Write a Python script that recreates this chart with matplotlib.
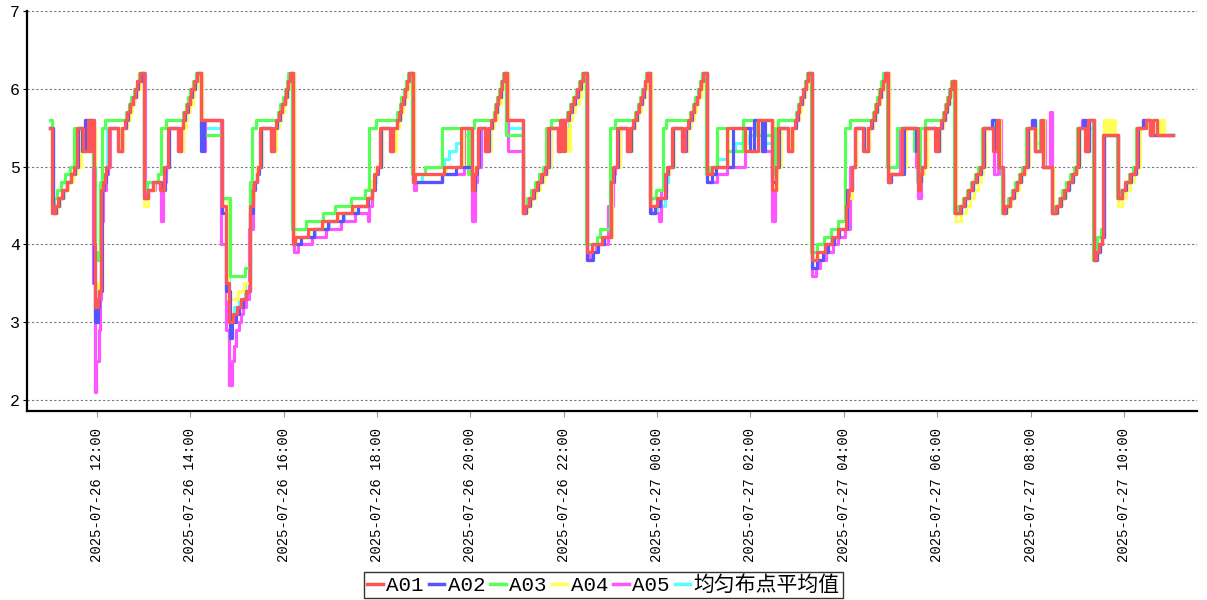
import matplotlib
matplotlib.use("Agg")
import matplotlib.pyplot as plt
import matplotlib.dates as mdates
from matplotlib.lines import Line2D
import pandas as pd

plt.rcParams['font.family'] = ['Liberation Mono', 'Noto Sans CJK SC']

# minutes after 2025-07-26 11:00, value held until next point
start = pd.Timestamp('2025-07-26 11:00')

a01 = [(0,5.5),(2,4.4),(6,4.5),(10,4.6),(15,4.7),(21,4.8),(26,4.9),(31,5.0),(34,5.5),(42,5.2),(48,5.6),(50,5.2),(53,5.6),(56,4.0),(58,3.2),(61,3.3),(63,3.4),(65,4.7),(68,4.8),(70,4.9),(72,5.0),(75,5.5),(87,5.2),(92,5.5),(96,5.6),(99,5.7),(103,5.8),(106,5.9),(109,6.0),(112,6.1),(115,6.2),(121,4.6),(125,4.7),(132,4.8),(141,4.7),(146,5.0),(151,5.5),(164,5.2),(168,5.5),(170,5.6),(172,5.7),(176,5.8),(179,5.9),(181,6.0),(185,6.1),(189,6.2),(194,5.6),(221,4.5),(226,3.5),(230,3.0),(235,3.1),(240,3.2),(245,3.3),(251,3.4),(257,4.5),(260,4.7),(262,4.8),(265,4.9),(267,5.0),(270,5.5),(283,5.2),(287,5.5),(290,5.6),(294,5.7),(298,5.8),(301,5.9),(303,6.0),(306,6.1),(308,6.2),(312,4.0),(315,4.1),(331,4.2),(349,4.3),(368,4.4),(388,4.5),(407,4.6),(413,4.7),(416,4.9),(420,5.0),(424,5.5),(437,5.2),(441,5.5),(445,5.6),(448,5.7),(451,5.8),(453,5.9),(456,6.0),(459,6.1),(461,6.2),(466,4.8),(469,4.9),(506,5.0),(528,5.5),(542,4.7),(545,4.9),(547,5.0),(550,5.5),(559,5.2),(563,5.5),(567,5.6),(571,5.7),(573,5.8),(576,5.9),(578,6.0),(581,6.1),(583,6.2),(587,5.6),(608,4.4),(610,4.5),(615,4.6),(621,4.7),(626,4.8),(631,4.9),(636,5.0),(640,5.5),(652,5.2),(655,5.6),(659,5.2),(662,5.6),(666,5.7),(669,5.8),(673,5.9),(677,6.0),(681,6.1),(685,6.2),(690,3.9),(696,4.0),(709,4.1),(721,4.8),(723,5.0),(729,5.5),(741,5.2),(745,5.5),(749,5.6),(753,5.7),(757,5.8),(759,5.9),(762,6.0),(765,6.1),(767,6.2),(771,4.5),(780,4.6),(790,4.9),(793,5.0),(799,5.5),(812,5.2),(816,5.5),(820,5.6),(824,5.7),(828,5.8),(831,5.9),(834,6.0),(837,6.1),(839,6.2),(844,4.9),(851,5.0),(870,5.5),(893,5.2),(910,5.6),(928,4.7),(933,5.0),(936,5.5),(948,5.2),(953,5.5),(957,5.6),(960,5.7),(962,5.8),(965,5.9),(968,6.0),(971,6.1),(974,6.2),(979,3.8),(986,3.9),(996,4.0),(1005,4.1),(1012,4.2),(1023,4.5),(1025,4.7),(1030,5.0),(1034,5.5),(1045,5.2),(1051,5.5),(1055,5.6),(1059,5.7),(1062,5.8),(1065,5.9),(1067,6.0),(1070,6.1),(1073,6.2),(1077,4.8),(1079,4.9),(1095,5.5),(1115,4.7),(1118,4.9),(1120,5.0),(1124,5.5),(1137,5.2),(1141,5.5),(1145,5.6),(1149,5.7),(1151,5.8),(1154,5.9),(1156,6.0),(1159,6.1),(1163,4.4),(1169,4.5),(1175,4.6),(1180,4.7),(1185,4.8),(1190,4.9),(1195,5.0),(1199,5.5),(1212,5.2),(1217,5.6),(1220,5.0),(1224,4.4),(1227,4.5),(1233,4.6),(1238,4.7),(1242,4.8),(1247,4.9),(1251,5.0),(1256,5.5),(1266,5.2),(1273,5.6),(1276,5.0),(1288,4.4),(1293,4.5),(1298,4.6),(1303,4.7),(1308,4.8),(1313,4.9),(1318,5.0),(1321,5.5),(1330,5.2),(1334,5.6),(1341,3.8),(1344,3.9),(1348,4.0),(1352,4.1),(1353,5.4),(1372,4.6),(1377,4.7),(1382,4.8),(1388,4.9),(1394,5.0),(1397,5.5),(1409,5.6),(1413,5.4),(1417,5.6),(1422,5.4),(1443,5.4)]

a02 = [(0,5.5),(3,4.4),(7,4.5),(11,4.6),(16,4.7),(21,4.8),(27,4.9),(32,5.0),(35,5.5),(41,5.2),(45,5.6),(53,5.6),(56,3.5),(58,3.0),(61,3.2),(63,3.4),(66,4.7),(69,4.8),(71,4.9),(73,5.0),(76,5.5),(87,5.2),(92,5.5),(97,5.6),(100,5.7),(103,5.8),(106,5.9),(110,6.0),(113,6.1),(116,6.2),(121,4.6),(125,4.7),(132,4.8),(142,4.7),(147,5.0),(152,5.5),(164,5.2),(168,5.5),(171,5.6),(173,5.7),(177,5.8),(180,5.9),(182,6.0),(186,6.1),(189,6.2),(194,5.2),(197,5.6),(221,4.4),(226,3.4),(231,2.8),(234,3.0),(238,3.1),(242,3.2),(247,3.3),(252,3.4),(257,4.4),(261,4.7),(263,4.8),(266,4.9),(268,5.0),(271,5.5),(283,5.2),(288,5.5),(291,5.6),(295,5.7),(298,5.8),(301,5.9),(304,6.0),(306,6.1),(308,6.2),(312,4.0),(322,4.1),(339,4.2),(357,4.3),(376,4.4),(395,4.5),(408,4.6),(414,4.7),(417,4.9),(421,5.0),(425,5.5),(437,5.2),(441,5.5),(446,5.6),(449,5.7),(451,5.8),(454,5.9),(456,6.0),(459,6.1),(461,6.2),(466,4.8),(504,4.9),(522,5.0),(542,4.7),(546,4.9),(548,5.0),(551,5.5),(559,5.2),(564,5.5),(568,5.6),(571,5.7),(574,5.8),(576,5.9),(579,6.0),(581,6.1),(583,6.2),(587,5.6),(608,4.4),(611,4.5),(616,4.6),(622,4.7),(627,4.8),(632,4.9),(637,5.0),(641,5.5),(652,5.2),(656,5.6),(667,5.7),(670,5.8),(674,5.9),(678,6.0),(682,6.1),(685,6.2),(690,3.8),(697,3.9),(704,4.0),(712,4.1),(721,4.8),(724,5.0),(730,5.5),(741,5.2),(746,5.5),(750,5.6),(754,5.7),(757,5.8),(760,5.9),(763,6.0),(765,6.1),(767,6.2),(771,4.4),(777,4.5),(784,4.6),(791,4.9),(794,5.0),(800,5.5),(812,5.2),(817,5.5),(821,5.6),(825,5.7),(828,5.8),(831,5.9),(834,6.0),(837,6.1),(839,6.2),(844,4.8),(850,4.9),(856,5.0),(877,5.5),(900,5.2),(904,5.6),(915,5.2),(919,5.6),(928,4.8),(933,5.0),(937,5.5),(948,5.2),(953,5.5),(958,5.6),(961,5.7),(963,5.8),(966,5.9),(969,6.0),(971,6.1),(974,6.2),(979,3.7),(986,3.8),(993,3.9),(1000,4.0),(1008,4.1),(1014,4.2),(1024,4.7),(1031,5.0),(1035,5.5),(1046,5.2),(1051,5.5),(1056,5.6),(1060,5.7),(1063,5.8),(1065,5.9),(1068,6.0),(1070,6.1),(1073,6.2),(1077,4.8),(1081,4.9),(1098,5.5),(1113,5.2),(1116,4.8),(1119,4.9),(1121,5.0),(1125,5.5),(1138,5.2),(1142,5.5),(1146,5.6),(1150,5.7),(1152,5.8),(1155,5.9),(1157,6.0),(1160,6.1),(1163,4.4),(1170,4.5),(1176,4.6),(1181,4.7),(1186,4.8),(1191,4.9),(1196,5.0),(1200,5.5),(1210,5.6),(1216,5.2),(1220,5.0),(1224,4.4),(1228,4.5),(1234,4.6),(1239,4.7),(1243,4.8),(1248,4.9),(1252,5.0),(1257,5.5),(1262,5.6),(1266,5.2),(1273,5.5),(1276,5.0),(1288,4.4),(1294,4.5),(1299,4.6),(1304,4.7),(1309,4.8),(1314,4.9),(1319,5.0),(1322,5.5),(1327,5.6),(1331,5.2),(1335,5.6),(1341,3.8),(1345,3.9),(1349,4.0),(1352,4.1),(1354,5.4),(1372,4.6),(1378,4.7),(1383,4.8),(1389,4.9),(1395,5.0),(1398,5.5),(1405,5.6),(1413,5.4),(1443,5.4)]

a03 = [(0,5.6),(2,4.5),(5,4.6),(9,4.7),(14,4.8),(19,4.9),(25,5.0),(31,5.5),(42,5.2),(47,5.6),(55,5.0),(58,3.9),(60,3.8),(64,4.8),(66,5.5),(70,5.6),(97,5.7),(101,5.8),(104,5.9),(107,6.0),(111,6.1),(114,6.2),(120,4.7),(124,4.8),(138,4.9),(142,5.5),(148,5.6),(170,5.7),(174,5.8),(177,5.9),(180,6.0),(183,6.1),(187,6.2),(193,5.4),(221,4.6),(231,3.6),(250,3.7),(256,4.8),(259,5.5),(264,5.6),(292,5.7),(295,5.8),(299,5.9),(302,6.0),(304,6.1),(306,6.2),(311,4.2),(328,4.3),(351,4.4),(366,4.5),(386,4.6),(405,4.7),(410,5.5),(419,5.6),(446,5.7),(449,5.8),(451,5.9),(454,6.0),(457,6.1),(460,6.2),(465,4.9),(481,5.0),(504,5.5),(537,4.9),(541,5.5),(545,5.6),(570,5.7),(572,5.8),(574,5.9),(577,6.0),(579,6.1),(582,6.2),(586,5.4),(608,4.4),(609,4.5),(613,4.6),(618,4.7),(623,4.8),(628,4.9),(633,5.0),(637,5.5),(644,5.6),(664,5.7),(668,5.8),(672,5.9),(676,6.0),(680,6.1),(684,6.2),(689,4.0),(703,4.1),(707,4.2),(719,5.5),(726,5.6),(751,5.7),(755,5.8),(758,5.9),(761,6.0),(764,6.1),(766,6.2),(771,4.6),(779,4.7),(787,5.5),(792,5.6),(822,5.7),(826,5.8),(829,5.9),(832,6.0),(835,6.1),(838,6.2),(843,4.9),(848,5.0),(857,5.5),(870,5.2),(891,5.6),(906,5.4),(928,4.9),(931,5.5),(936,5.6),(959,5.7),(961,5.8),(964,5.9),(967,6.0),(970,6.1),(973,6.2),(978,3.9),(985,4.0),(994,4.1),(1003,4.2),(1012,4.3),(1021,5.5),(1028,5.6),(1057,5.7),(1060,5.8),(1063,5.9),(1065,6.0),(1068,6.1),(1071,6.2),(1076,5.0),(1089,5.5),(1110,5.2),(1115,4.8),(1118,5.5),(1124,5.6),(1147,5.7),(1150,5.8),(1152,5.9),(1155,6.0),(1158,6.1),(1162,4.4),(1167,4.5),(1173,4.6),(1178,4.7),(1183,4.8),(1188,4.9),(1193,5.0),(1197,5.5),(1212,5.6),(1220,5.0),(1223,4.4),(1226,4.5),(1231,4.6),(1236,4.7),(1240,4.8),(1245,4.9),(1249,5.0),(1254,5.5),(1266,5.2),(1272,5.6),(1276,5.0),(1287,4.4),(1291,4.5),(1296,4.6),(1301,4.7),(1306,4.8),(1311,4.9),(1316,5.0),(1320,5.5),(1330,5.2),(1334,5.6),(1340,3.8),(1343,3.9),(1346,4.1),(1350,4.2),(1353,5.4),(1371,4.6),(1376,4.7),(1381,4.8),(1386,4.9),(1392,5.0),(1396,5.5),(1408,5.6),(1413,5.4),(1417,5.6),(1422,5.4),(1443,5.4)]

a04 = [(0,5.5),(3,4.4),(9,4.5),(13,4.6),(18,4.7),(23,4.8),(29,4.9),(34,5.0),(40,5.5),(46,5.6),(53,5.5),(57,3.5),(61,3.4),(64,3.5),(66,4.7),(69,4.9),(72,5.0),(76,5.5),(88,5.2),(94,5.5),(99,5.6),(102,5.7),(105,5.8),(108,5.9),(112,6.0),(115,6.1),(118,6.2),(121,4.5),(126,4.7),(133,4.8),(141,4.8),(146,5.0),(152,5.5),(165,5.2),(170,5.5),(174,5.6),(176,5.7),(180,5.8),(183,5.9),(185,6.0),(189,6.1),(192,6.2),(195,5.6),(221,4.6),(228,3.3),(241,3.4),(249,3.5),(256,4.6),(262,4.8),(266,5.0),(272,5.5),(285,5.2),(290,5.5),(294,5.6),(297,5.7),(300,5.8),(303,5.9),(305,6.0),(307,6.1),(309,6.2),(313,4.0),(316,4.1),(333,4.2),(351,4.3),(370,4.4),(390,4.5),(408,4.6),(414,4.8),(418,5.0),(426,5.5),(439,5.2),(444,5.5),(448,5.6),(451,5.7),(453,5.8),(456,5.9),(458,6.0),(461,6.1),(463,6.2),(467,4.9),(508,5.0),(530,5.5),(542,4.8),(546,5.0),(551,5.5),(561,5.2),(566,5.5),(570,5.6),(574,5.7),(576,5.8),(579,5.9),(581,6.0),(583,6.1),(585,6.2),(588,5.6),(608,4.4),(613,4.5),(618,4.6),(624,4.7),(629,4.8),(634,4.9),(639,5.0),(644,5.5),(655,5.2),(660,5.5),(664,5.2),(668,5.6),(671,5.7),(675,5.8),(679,5.9),(682,6.0),(685,6.1),(687,6.2),(690,3.9),(697,4.0),(709,4.1),(722,4.8),(725,5.0),(732,5.5),(743,5.2),(748,5.5),(752,5.6),(756,5.7),(759,5.8),(762,5.9),(765,6.0),(767,6.1),(769,6.2),(772,4.5),(781,4.6),(791,4.9),(795,5.0),(802,5.5),(814,5.2),(819,5.5),(823,5.6),(827,5.7),(830,5.8),(833,5.9),(836,6.0),(839,6.1),(841,6.2),(844,4.9),(852,5.0),(871,5.5),(894,5.2),(911,5.6),(929,4.7),(934,5.0),(939,5.5),(950,5.2),(955,5.5),(959,5.6),(962,5.7),(965,5.8),(968,5.9),(970,6.0),(973,6.1),(976,6.2),(979,3.8),(987,3.9),(997,4.0),(1006,4.1),(1013,4.2),(1024,4.6),(1031,5.0),(1036,5.5),(1048,5.2),(1053,5.5),(1058,5.6),(1061,5.7),(1064,5.8),(1067,5.9),(1069,6.0),(1072,6.1),(1075,6.2),(1078,4.8),(1081,4.9),(1097,5.0),(1100,5.5),(1116,4.8),(1120,4.9),(1123,5.0),(1127,5.5),(1140,5.2),(1144,5.5),(1148,5.6),(1151,5.7),(1154,5.8),(1156,5.9),(1158,6.0),(1161,6.1),(1164,4.3),(1171,4.4),(1177,4.5),(1182,4.6),(1187,4.7),(1192,4.8),(1196,4.9),(1199,5.0),(1202,5.5),(1214,5.2),(1219,5.6),(1221,5.0),(1225,4.4),(1230,4.5),(1235,4.6),(1240,4.7),(1245,4.8),(1249,4.9),(1253,5.0),(1258,5.5),(1267,5.2),(1274,5.6),(1277,5.0),(1289,4.4),(1295,4.5),(1300,4.6),(1305,4.7),(1310,4.8),(1315,4.9),(1320,5.0),(1323,5.5),(1331,5.2),(1335,5.6),(1341,3.8),(1345,3.9),(1349,4.0),(1352,4.1),(1354,5.6),(1357,5.4),(1360,5.6),(1363,5.4),(1366,5.6),(1369,5.4),(1372,4.5),(1378,4.6),(1383,4.7),(1388,4.8),(1393,4.9),(1397,5.0),(1401,5.5),(1409,5.6),(1413,5.4),(1417,5.6),(1424,5.4),(1428,5.6),(1432,5.4),(1443,5.4)]

a05 = [(0,5.5),(3,4.4),(8,4.5),(12,4.6),(17,4.7),(22,4.8),(28,4.9),(33,5.0),(37,5.5),(44,5.6),(52,5.5),(55,3.5),(57,2.1),(59,2.5),(62,2.9),(64,3.3),(65,4.3),(68,4.7),(71,4.9),(74,5.0),(77,5.5),(88,5.2),(93,5.5),(98,5.6),(101,5.7),(104,5.8),(107,5.9),(111,6.0),(114,6.1),(117,6.2),(122,4.6),(126,4.7),(134,4.8),(142,4.3),(145,4.8),(149,5.0),(153,5.5),(166,5.2),(170,5.5),(173,5.6),(175,5.7),(178,5.8),(181,5.9),(183,6.0),(187,6.1),(190,6.2),(195,5.6),(197,5.2),(199,5.6),(219,4.0),(226,2.9),(230,2.2),(233,2.5),(236,2.7),(239,2.9),(242,3.0),(245,3.1),(248,3.2),(251,3.3),(255,4.2),(261,4.8),(265,5.0),(272,5.5),(285,5.2),(289,5.5),(292,5.6),(296,5.7),(299,5.8),(302,5.9),(305,6.0),(307,6.1),(309,6.2),(313,3.9),(318,4.0),(336,4.1),(354,4.2),(373,4.3),(391,4.4),(408,4.3),(410,4.5),(414,4.8),(418,5.0),(426,5.5),(438,5.2),(443,5.5),(447,5.6),(450,5.7),(452,5.8),(455,5.9),(457,6.0),(460,6.1),(462,6.2),(467,4.7),(470,4.8),(504,4.9),(532,5.5),(542,4.3),(546,4.8),(549,5.0),(553,5.5),(560,5.2),(565,5.5),(569,5.6),(572,5.7),(575,5.8),(577,5.9),(580,6.0),(582,6.1),(584,6.2),(588,5.2),(608,4.4),(612,4.5),(617,4.6),(623,4.7),(628,4.8),(633,4.9),(638,5.0),(643,5.5),(653,5.2),(657,5.6),(668,5.7),(671,5.8),(675,5.9),(679,6.0),(683,6.1),(686,6.2),(690,3.8),(694,3.9),(701,4.0),(717,4.5),(723,4.9),(726,5.0),(732,5.5),(742,5.2),(747,5.5),(751,5.6),(755,5.7),(758,5.8),(761,5.9),(764,6.0),(766,6.1),(768,6.2),(772,4.4),(782,4.3),(785,4.7),(791,4.9),(795,5.0),(801,5.5),(813,5.2),(818,5.5),(822,5.6),(826,5.7),(829,5.8),(832,5.9),(835,6.0),(838,6.1),(840,6.2),(844,4.8),(857,4.9),(870,5.0),(893,5.5),(905,5.6),(914,5.2),(928,4.3),(931,4.8),(934,5.0),(938,5.5),(949,5.2),(954,5.5),(959,5.6),(962,5.7),(964,5.8),(967,5.9),(970,6.0),(972,6.1),(975,6.2),(979,3.6),(984,3.7),(989,3.8),(997,3.9),(1006,4.0),(1013,4.1),(1022,4.2),(1028,5.0),(1036,5.5),(1047,5.2),(1052,5.5),(1057,5.6),(1061,5.7),(1063,5.8),(1066,5.9),(1069,6.0),(1071,6.1),(1074,6.2),(1078,4.8),(1081,4.9),(1092,5.5),(1113,5.0),(1116,4.6),(1119,4.9),(1122,5.0),(1126,5.5),(1139,5.2),(1143,5.5),(1147,5.6),(1150,5.7),(1153,5.8),(1155,5.9),(1157,6.0),(1160,6.1),(1163,4.4),(1170,4.5),(1176,4.6),(1181,4.7),(1186,4.8),(1191,4.9),(1196,5.0),(1200,5.5),(1210,5.6),(1213,4.9),(1218,5.6),(1222,4.9),(1225,4.4),(1229,4.5),(1234,4.6),(1239,4.7),(1244,4.8),(1248,4.9),(1253,5.0),(1256,5.5),(1262,5.6),(1266,5.2),(1273,5.6),(1278,5.0),(1285,5.7),(1288,4.4),(1294,4.5),(1299,4.6),(1304,4.7),(1309,4.8),(1314,4.9),(1318,5.0),(1321,5.5),(1326,5.6),(1331,5.2),(1335,5.6),(1341,3.8),(1345,3.9),(1349,4.0),(1352,4.1),(1354,5.4),(1372,4.6),(1378,4.7),(1383,4.8),(1389,4.9),(1395,5.0),(1398,5.5),(1404,5.6),(1413,5.4),(1443,5.4)]

avg = [(0,5.5),(2,4.4),(7,4.5),(11,4.6),(16,4.7),(21,4.8),(27,4.9),(32,5.0),(35,5.5),(42,5.3),(47,5.6),(54,5.4),(57,3.3),(63,3.5),(65,4.7),(68,4.9),(71,5.0),(73,5.5),(87,5.3),(92,5.5),(97,5.6),(100,5.7),(104,5.8),(107,5.9),(110,6.0),(113,6.1),(116,6.2),(121,4.6),(125,4.7),(132,4.8),(141,4.7),(146,5.0),(151,5.5),(165,5.3),(169,5.5),(171,5.6),(174,5.7),(177,5.8),(180,5.9),(183,6.0),(186,6.1),(189,6.2),(194,5.5),(221,4.5),(229,3.1),(236,3.2),(243,3.3),(250,3.5),(257,4.6),(261,4.8),(265,5.0),(270,5.5),(284,5.3),(288,5.5),(291,5.6),(295,5.7),(299,5.8),(302,5.9),(304,6.0),(307,6.1),(309,6.2),(312,4.1),(340,4.2),(358,4.3),(377,4.4),(396,4.5),(408,4.6),(414,4.8),(418,5.0),(424,5.5),(438,5.3),(442,5.5),(446,5.6),(449,5.7),(452,5.8),(454,5.9),(457,6.0),(459,6.1),(462,6.2),(466,4.8),(478,4.9),(506,5.1),(513,5.2),(521,5.3),(528,5.4),(542,4.8),(546,5.0),(550,5.5),(560,5.3),(564,5.5),(568,5.6),(572,5.7),(574,5.8),(577,5.9),(579,6.0),(582,6.1),(584,6.2),(588,5.5),(608,4.4),(611,4.5),(616,4.6),(622,4.7),(627,4.8),(632,4.9),(637,5.0),(641,5.5),(653,5.3),(657,5.5),(667,5.7),(670,5.8),(674,5.9),(678,6.0),(682,6.1),(685,6.2),(690,3.9),(697,4.0),(709,4.1),(721,4.8),(724,5.0),(730,5.5),(742,5.3),(746,5.5),(750,5.6),(754,5.7),(757,5.8),(760,5.9),(763,6.0),(765,6.1),(767,6.2),(771,4.4),(780,4.5),(790,4.8),(794,5.0),(800,5.5),(813,5.3),(817,5.5),(821,5.6),(825,5.7),(828,5.8),(831,5.9),(834,6.0),(837,6.1),(839,6.2),(844,4.9),(851,5.0),(857,5.1),(870,5.2),(880,5.3),(898,5.4),(910,5.3),(928,4.8),(933,5.0),(937,5.5),(948,5.3),(953,5.5),(957,5.6),(961,5.7),(963,5.8),(966,5.9),(969,6.0),(971,6.1),(974,6.2),(979,3.8),(986,3.9),(996,4.0),(1004,4.1),(1012,4.2),(1023,4.7),(1030,5.0),(1035,5.5),(1046,5.3),(1051,5.5),(1055,5.6),(1059,5.7),(1062,5.8),(1065,5.9),(1068,6.0),(1070,6.1),(1073,6.2),(1077,4.8),(1080,4.9),(1094,5.5),(1114,4.8),(1118,4.9),(1121,5.0),(1125,5.5),(1138,5.3),(1142,5.5),(1146,5.6),(1150,5.7),(1152,5.8),(1155,5.9),(1157,6.0),(1160,6.1),(1163,4.4),(1170,4.5),(1176,4.6),(1181,4.7),(1186,4.8),(1191,4.9),(1196,5.0),(1200,5.5),(1212,5.3),(1217,5.5),(1221,5.0),(1224,4.4),(1228,4.5),(1234,4.6),(1239,4.7),(1243,4.8),(1248,4.9),(1252,5.0),(1257,5.5),(1266,5.3),(1273,5.5),(1277,5.0),(1288,4.4),(1294,4.5),(1299,4.6),(1304,4.7),(1309,4.8),(1314,4.9),(1319,5.0),(1322,5.5),(1331,5.3),(1335,5.5),(1341,3.8),(1345,3.9),(1349,4.0),(1352,4.1),(1354,5.4),(1372,4.6),(1378,4.7),(1383,4.8),(1389,4.9),(1395,5.0),(1398,5.5),(1405,5.6),(1413,5.4),(1443,5.4)]

names = ['A01', 'A02', 'A03', 'A04', 'A05', '均匀布点平均值']
series = [a01, a02, a03, a04, a05, avg]
colors = ['#ff5555', '#5555ff', '#55ff55', '#ffff55', '#ff55ff', '#55ffff']

fig = plt.figure(figsize=(12.07, 6), dpi=100)
ax = fig.add_axes([0.0224, 0.315, 0.9693, 0.6668])

# draw in reverse so A01 ends up on top
for data, c in reversed(list(zip(series, colors))):
    t = [start + pd.Timedelta(minutes=m) for m, v in data]
    v = [v for m, v in data]
    ax.plot(t, v, color=c, lw=2.3, drawstyle='steps-post')

ax.set_xlim(start - pd.Timedelta(minutes=30), start + pd.Timedelta(minutes=1474))
ax.set_ylim(1.86, 7)
ax.set_yticks([2, 3, 4, 5, 6, 7])
ax.grid(axis='y', color='#777777', lw=0.8, ls=(0, (2, 2)))
ax.set_axisbelow(True)

ax.xaxis.set_major_locator(mdates.HourLocator(byhour=range(0, 24, 2)))
ax.xaxis.set_major_formatter(mdates.DateFormatter('%Y-%m-%d %H:%M'))
plt.setp(ax.get_xticklabels(), rotation=90, ha='center', va='top')
ax.tick_params(axis='x', labelsize=10, length=4, pad=8, color='#999999')
ax.tick_params(axis='y', labelsize=12, length=3, pad=2)

for s in ['top', 'right']:
    ax.spines[s].set_visible(False)
for s in ['left', 'bottom']:
    ax.spines[s].set_linewidth(1.6)

handles = [Line2D([], [], color=c, lw=2.5) for c in colors]
leg = fig.legend(handles, names, loc='lower center', bbox_to_anchor=(0.5, 0.0), ncol=6,
                 fontsize=15, frameon=True, fancybox=False, edgecolor='black',
                 handlelength=0.75, handletextpad=0.15, columnspacing=0.25,
                 borderpad=0.15, borderaxespad=0.1)
leg.get_frame().set_linewidth(1.0)

fig.savefig('out.png', dpi=100)
